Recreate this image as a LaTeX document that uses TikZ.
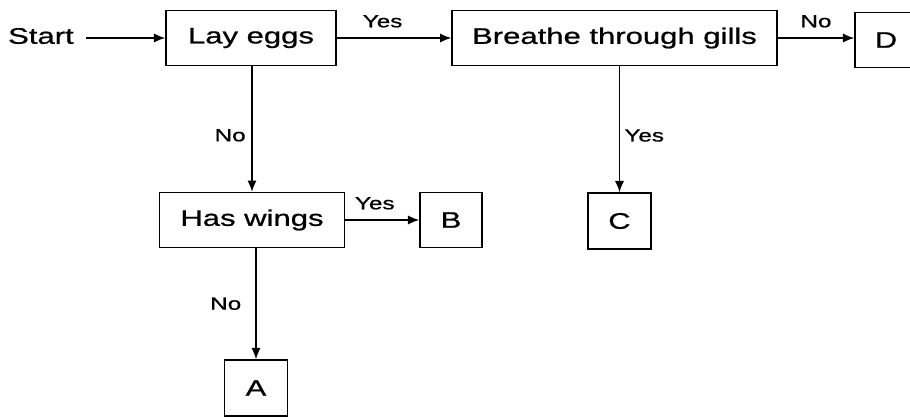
\documentclass[tikz,border=0pt]{standalone}
\usepackage{fontspec}
\setmainfont{Liberation Sans}[FakeStretch=1.38,FakeBold=0.8]
\usetikzlibrary{arrows.meta}
\begin{document}
\begin{tikzpicture}[x=0.025cm,y=-0.025cm,
  box/.style={draw,line width=1.1pt,inner sep=0pt,minimum height=1.37cm,font=\fontsize{16}{18}\selectfont},
  arr/.style={line width=1pt,-{Latex[length=8pt,width=6.5pt]}},
  lbl/.style={font=\fontsize{12.5}{14}\selectfont,inner sep=2pt}]
\useasboundingbox (0,0) rectangle (910,417);
\node[font=\fontsize{16}{18}\selectfont,inner sep=0pt,anchor=east] (start) at (74,36) {Start};
\coordinate (go) at (86,38);
\node[box,minimum width=4.25cm] (lay) at (251,38) {Lay eggs};
\node[box,minimum width=8.12cm] (gills) at (614.5,38) {Breathe through gills};
\node[box,minimum width=1.55cm] (D) at (886,40) {D};
\node[box,minimum width=4.62cm] (wings) at (252,220) {Has wings};
\node[box,minimum width=1.55cm] (B) at (451,220) {B};
\node[box,minimum width=1.57cm,minimum height=1.4cm] (C) at (619.5,221) {C};
\node[box,minimum width=1.57cm,minimum height=1.4cm] (A) at (256,388) {A};
\draw[arr] (go) -- (go -| lay.west);
\draw[arr] (lay.east) -- node[lbl,above=5pt,pos=.4] {Yes} (gills.west);
\draw[arr] (gills.east) -- node[lbl,above=5pt] {No} (gills.east -| D.west);
\draw[arr] (lay.south -| wings.north) -- node[lbl,left=2pt,pos=.55] {No} (wings.north);
\draw[arr] (wings.east) -- node[lbl,above=5pt,pos=.4] {Yes} (B.west);
\draw[arr] (wings.south -| A.north) -- node[lbl,left=8pt] {No} (A.north);
\draw[arr] (gills.south -| C.north) -- node[lbl,right=1pt,pos=.55] {Yes} (C.north);
\end{tikzpicture}
\end{document}
